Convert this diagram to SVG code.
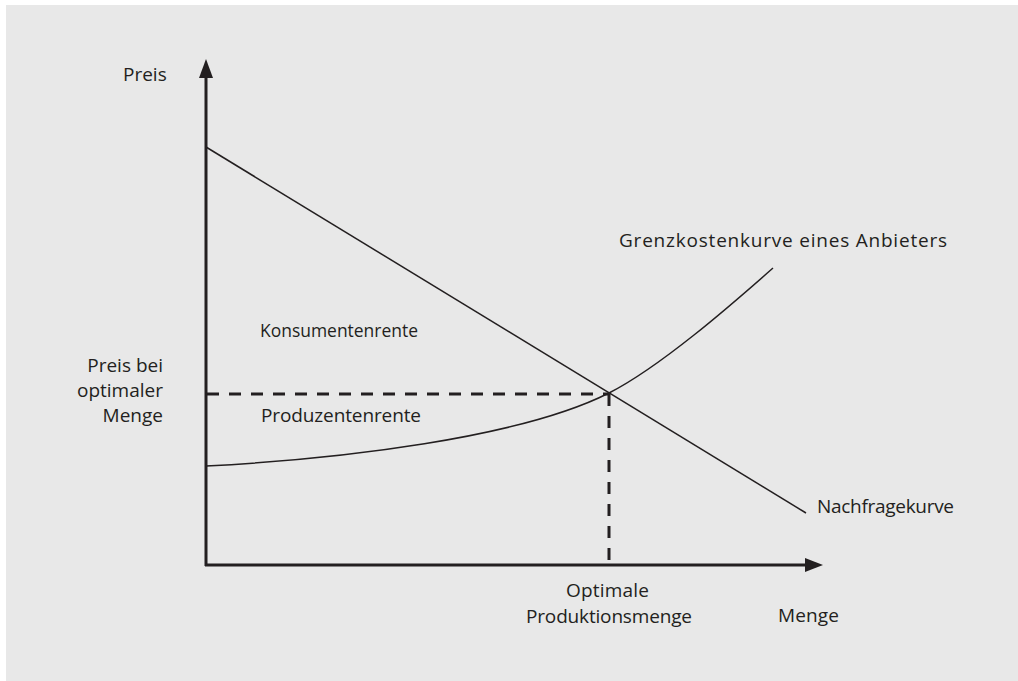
<svg xmlns="http://www.w3.org/2000/svg" width="1018" height="681" viewBox="0 0 1018 681">
<style>
.t{font-family:"Open Sans","Noto Sans",sans-serif;font-size:19px;fill:#231f20}
.ax{stroke:#231f20;stroke-width:3;fill:none}
.cv{stroke:#231f20;stroke-width:1.5;fill:none}
.ds{stroke:#231f20;stroke-width:3;fill:none;stroke-dasharray:12 10}
</style>
<rect x="0" y="0" width="1018" height="681" fill="#ffffff"/>
<rect x="6" y="5" width="1012" height="676" fill="#e8e8e8"/>
<g id="connectors">
<line class="ax" x1="206" y1="566" x2="206" y2="74"/>
<polygon points="206,59 199,78 213,78" fill="#231f20"/>
<line class="ax" x1="205" y1="565" x2="808" y2="565"/>
<polygon points="823,565 805,558 805,572" fill="#231f20"/>
<line class="cv" x1="206" y1="147" x2="806" y2="513"/>
<path class="cv" d="M206,466 C340,459 520,438 609,393 C660,367 730,306 773,268"/>
<line class="ds" x1="207" y1="394" x2="609" y2="394"/>
<line class="ds" x1="609" y1="394" x2="609" y2="566"/>
</g>
<g id="labels">
<text class="t" x="123" y="81">Preis</text>
<text class="t" x="163" y="372" text-anchor="end">Preis bei</text>
<text class="t" x="163" y="397" text-anchor="end">optimaler</text>
<text class="t" x="163" y="422" text-anchor="end">Menge</text>
<text class="t" x="260" y="337" textLength="158" lengthAdjust="spacingAndGlyphs">Konsumentenrente</text>
<text class="t" x="261" y="422" textLength="160">Produzentenrente</text>
<text class="t" x="619" y="247" textLength="328">Grenzkostenkurve eines Anbieters</text>
<text class="t" x="817" y="513" textLength="137">Nachfragekurve</text>
<text class="t" x="566" y="597" textLength="83">Optimale</text>
<text class="t" x="526" y="623" textLength="166">Produktionsmenge</text>
<text class="t" x="778" y="622" textLength="61">Menge</text>
</g>
</svg>
